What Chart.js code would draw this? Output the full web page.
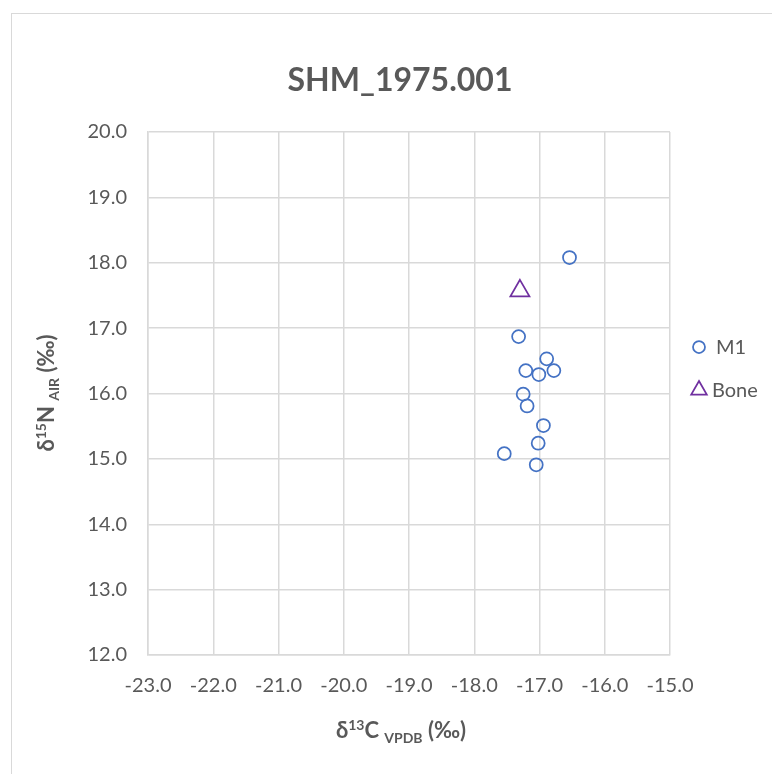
<!DOCTYPE html>
<html>
<head>
<meta charset="utf-8">
<script src="https://cdn.jsdelivr.net/npm/chart.js@4.4.0/dist/chart.umd.min.js"></script>
<style>
  html, body { margin: 0; padding: 0; background: #fff; overflow: hidden; }
  #wrap { position: relative; width: 772px; height: 774px; }
  #frame { position: absolute; left: 11px; top: 13px; width: 900px; height: 900px; border: 1.5px solid #d9d9d9; box-sizing: border-box; }
  #wrap canvas { position: absolute; left: 0; top: 0; }
</style>
</head>
<body>
<div id="wrap">
  <div id="frame"></div>
  <canvas id="isoChart" width="772" height="774"></canvas>
</div>
<script>
// Sample values: d13C (x) and d15N (y), per series
const chartTitle = 'SHM_1975.001';
const m1C = [-16.54, -17.32, -16.89, -17.21, -16.78, -17.01, -17.25, -17.19, -16.94, -17.02, -17.54, -17.05];
const m1N = [18.08, 16.87, 16.53, 16.35, 16.35, 16.29, 15.99, 15.81, 15.51, 15.24, 15.08, 14.91];
const boneC = [-17.30];
const boneN = [17.57];
const xRange = [-23, -15];
const yRange = [12, 20];

const TEXT = '#595959';
const GRID = '#d9d9d9';
const FONT = 'Lato, "Open Sans", sans-serif';

const pts = (xs, ys) => xs.map((x, i) => ({ x, y: ys[i] }));

// titles with super/subscripts, drawn as runs of text
function drawRuns(ctx, runs, cx, baseline) {
  let total = 0;
  runs.forEach(r => {
    ctx.font = `${r.bold ? 'bold ' : ''}${r.size}px ${FONT}`;
    r.w = ctx.measureText(r.text).width;
    total += r.w;
  });
  let x = cx - total / 2;
  runs.forEach(r => {
    ctx.font = `${r.bold ? 'bold ' : ''}${r.size}px ${FONT}`;
    ctx.fillText(r.text, x, baseline + (r.dy || 0));
    x += r.w;
  });
}

const titlesPlugin = {
  id: 'titles',
  afterDraw(chart) {
    const ctx = chart.ctx;
    ctx.save();
    ctx.fillStyle = TEXT;
    ctx.textBaseline = 'alphabetic';
    ctx.textAlign = 'left';

    drawRuns(ctx, [{ text: chartTitle, size: 32, bold: true }], 400, 91);

    drawRuns(ctx, [
      { text: 'δ', size: 22, bold: true },
      { text: '13', size: 14, bold: true, dy: -8 },
      { text: 'C ', size: 22, bold: true },
      { text: 'VPDB', size: 14, bold: true, dy: 5 },
      { text: ' (‰)', size: 22, bold: true },
    ], 401, 738);

    ctx.translate(54, 393);
    ctx.rotate(-Math.PI / 2);
    drawRuns(ctx, [
      { text: 'δ', size: 22, bold: true },
      { text: '15', size: 14, bold: true, dy: -8 },
      { text: 'N ', size: 22, bold: true },
      { text: 'AIR', size: 14, bold: true, dy: 5 },
      { text: ' (‰)', size: 22, bold: true },
    ], 0, 0);
    ctx.restore();
  },
};

// legend on the right, markers taken from the dataset styles
const legendPlugin = {
  id: 'sideLegend',
  afterDraw(chart) {
    const ctx = chart.ctx;
    const rows = [
      { ds: chart.data.datasets[0], y: 347, tx: 716, r: 6 },
      { ds: chart.data.datasets[1], y: 390, tx: 712, r: 9 },
    ];
    ctx.save();
    rows.forEach(row => {
      ctx.strokeStyle = row.ds.borderColor;
      ctx.fillStyle = 'rgba(0,0,0,0)';
      ctx.lineWidth = row.ds.borderWidth;
      Chart.helpers.drawPoint(ctx, { pointStyle: row.ds.pointStyle, radius: row.r, rotation: 0, borderWidth: row.ds.borderWidth }, 699, row.y);
      ctx.fillStyle = TEXT;
      ctx.font = `20px ${FONT}`;
      ctx.textBaseline = 'middle';
      ctx.textAlign = 'left';
      ctx.fillText(row.ds.label, row.tx, row.y + 1);
    });
    ctx.restore();
  },
};

const axisCommon = {
  type: 'linear',
  grid: { color: GRID, lineWidth: 1.5, drawTicks: false },
  border: { display: true, color: GRID, width: 1.5 },
};

new Chart(document.getElementById('isoChart'), {
  type: 'scatter',
  data: {
    datasets: [
      {
        label: 'M1',
        data: pts(m1C, m1N),
        pointStyle: 'circle',
        pointRadius: 6.5,
        pointHoverRadius: 6.5,
        borderColor: '#4472c4',
        backgroundColor: 'rgba(0,0,0,0)',
        borderWidth: 1.75,
      },
      {
        label: 'Bone',
        data: pts(boneC, boneN),
        pointStyle: 'triangle',
        pointRadius: 11,
        pointHoverRadius: 11,
        borderColor: '#7030a0',
        backgroundColor: 'rgba(0,0,0,0)',
        borderWidth: 1.75,
      },
    ],
  },
  options: {
    responsive: false,
    animation: false,
    devicePixelRatio: 1,
    layout: { padding: { top: 132, right: 102, left: 0, bottom: 0 } },
    plugins: {
      legend: { display: false },
      title: { display: false },
      tooltip: { enabled: false },
    },
    scales: {
      x: {
        ...axisCommon,
        min: xRange[0], max: xRange[1],
        ticks: { stepSize: 1, padding: 19, color: TEXT, font: { family: FONT, size: 20 }, callback: v => v.toFixed(1) },
        afterFit: s => { s.height = 119; },
      },
      y: {
        ...axisCommon,
        min: yRange[0], max: yRange[1],
        ticks: { stepSize: 1, padding: 21, color: TEXT, font: { family: FONT, size: 20 }, callback: v => v.toFixed(1) },
        afterFit: s => { s.width = 148; },
      },
    },
  },
  plugins: [titlesPlugin, legendPlugin],
});
</script>
</body>
</html>
